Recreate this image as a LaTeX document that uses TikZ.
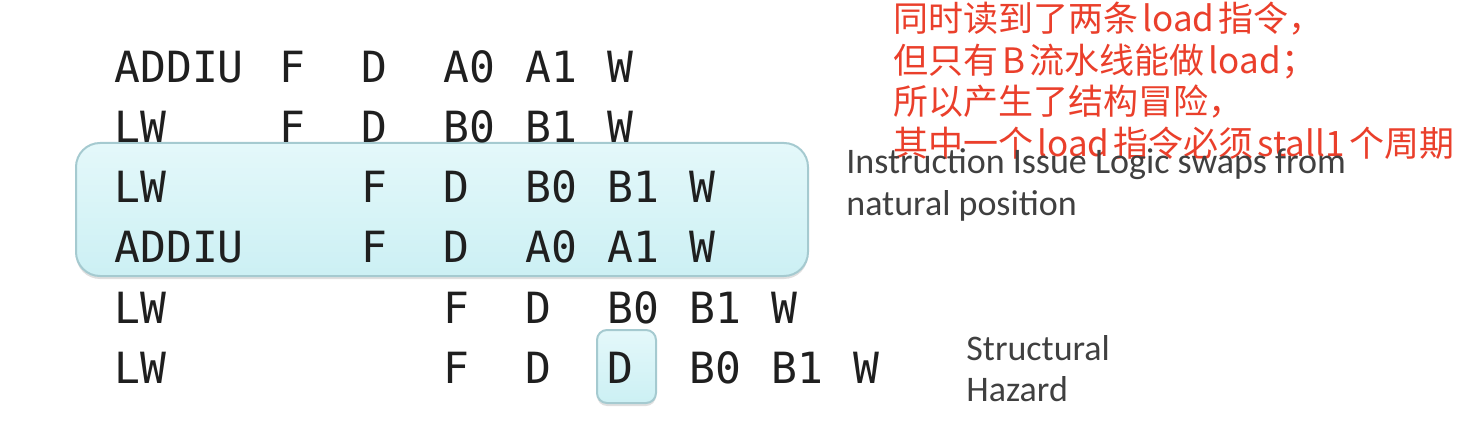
\documentclass[tikz,border=0pt]{standalone}
\usepackage{fontspec}
\usetikzlibrary{positioning,shadows}
\newfontfamily\monofont{DejaVu Sans Mono}
\newfontfamily\cjkfont{Noto Sans CJK SC}
\newfontfamily\hintfont{Carlito}
\definecolor{notered}{RGB}{234,63,43}
\definecolor{boxtop}{RGB}{228,248,250}
\definecolor{boxbottom}{RGB}{204,240,244}
\definecolor{boxline}{RGB}{165,202,208}
\newcommand\cjkgap{\hspace{0.12em}}

\tikzset{
  cell/.style={anchor=base west, inner sep=0pt, text=black!88,
    font=\monofont\fontsize{21.5}{25}\selectfont},
  note/.style={anchor=base west, inner sep=0pt, text=notered,
    font=\cjkfont\fontsize{17.5}{21}\selectfont},
  hint/.style={anchor=base west, inner sep=0pt, text=black!75,
    font=\hintfont\fontsize{18}{21}\selectfont},
  issuebox/.style={draw=boxline, line width=1pt, top color=boxtop, bottom color=boxbottom,
    drop shadow={shadow xshift=0pt, shadow yshift=-1.5pt, opacity=0.25}}
}

\begin{document}
\begin{tikzpicture}[x=0.5pt,y=-0.5pt]
  \useasboundingbox (0,0) rectangle (1460,422);

  % Swapped pair
  \draw[issuebox, rounded corners=12pt] (76,143) rectangle (808,276);

  % Stalled decode
  \draw[issuebox, rounded corners=5pt] (597,330) rectangle (656,403);

  % Pipeline rows
  \foreach \row/\name/\first/\stages in {
      1/ADDIU/1/{F,D,A0,A1,W},
      2/LW/1/{F,D,B0,B1,W},
      3/LW/2/{F,D,B0,B1,W},
      4/ADDIU/2/{F,D,A0,A1,W},
      5/LW/3/{F,D,B0,B1,W},
      6/LW/3/{F,D,D,B0,B1,W}}
  {
    \node[cell] (op\row) at (114, 23+60*\row) {\name};
    \foreach \st [count=\k from \first] in \stages
      \node[cell] (s\row-\k) at (197+82*\k, 23+60*\row) {\st};
  }

  % Red remarks
  \foreach \txt [count=\i] in {
      {同时读到了两条\cjkgap{}load\cjkgap{}指令，},
      {但只有\cjkgap{}B\cjkgap{}流水线能做\cjkgap{}load；},
      {所以产生了结构冒险，},
      {其中一个\cjkgap{}load\cjkgap{}指令必须\cjkgap{}stall1\cjkgap{}个周期}}
    \node[note] (note\i) at (893, -9.5+41.5*\i) {\txt};

  % Slide remarks
  \node[hint] (swap1) at (846,174) {Instruction Issue Logic swaps from};
  \node[hint] (swap2) at (846,216) {natural position};
  \node[hint] (haz1) at (966,360) {Structural};
  \node[hint] (haz2) at (966,401) {Hazard};
\end{tikzpicture}
\end{document}
